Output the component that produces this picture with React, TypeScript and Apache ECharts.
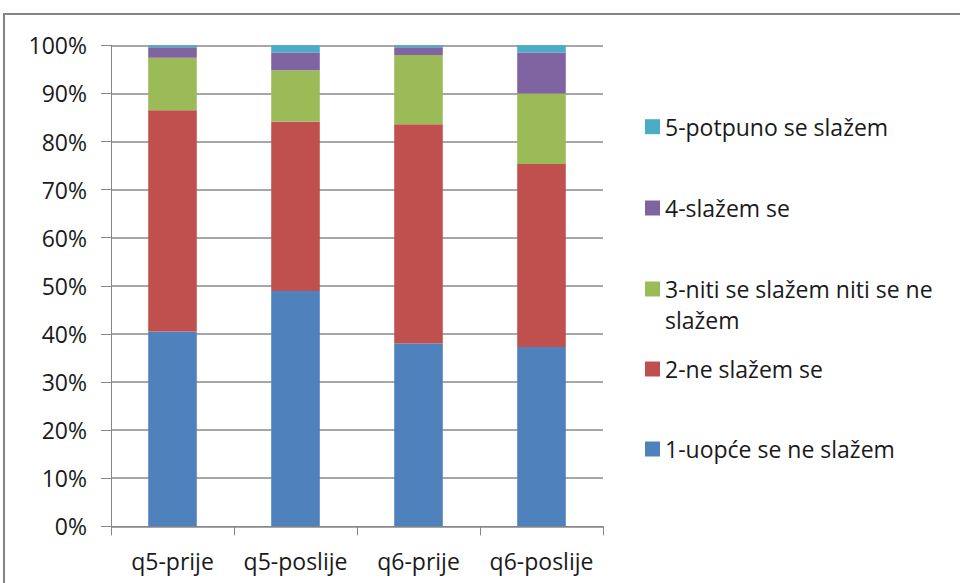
import React, { useEffect, useRef } from "react";
import * as echarts from "echarts";

const categories = ["q5-prije", "q5-poslije", "q6-prije", "q6-poslije"];
const seriesNames = [
  "1-uopće se ne slažem",
  "2-ne slažem se",
  "3-niti se slažem niti se ne slažem",
  "4-slažem se",
  "5-potpuno se slažem",
];
const s1 = [40.5, 48.9, 38.0, 37.3];
const s2 = [46.0, 35.2, 45.6, 38.0];
const s3 = [10.9, 10.7, 14.4, 14.7];
const s4 = [2.2, 3.7, 1.6, 8.5];
const s5 = [0.4, 1.5, 0.4, 1.5];
const colors = ["#4F81BD", "#C0504D", "#9BBB59", "#8064A2", "#4BACC6"];
const yTicks = [0, 10, 20, 30, 40, 50, 60, 70, 80, 90, 100];

const FONT = "Open Sans";
const FS = 23;

export default function App() {
  const ref = useRef<HTMLDivElement>(null);
  useEffect(() => {
    if (!ref.current) return;
    const chart = echarts.init(ref.current, null, { renderer: "svg" });
    const values = [s1, s2, s3, s4, s5];
    const legendTops = [433.5, 353.5, 273.5, 192.5, 111.2];
    const legends = seriesNames.map((name, i) => {
      const isMulti = i === 2;
      return {
        orient: "vertical",
        left: 645,
        top: legendTops[i],
        padding: 0,
        data: [name],
        selectedMode: false,
        icon: isMulti ? "path://M0,8H15V23H0Z M0,0h0.01v0.01h-0.01Z M0,62h0.01v0.01h-0.01Z" : "rect",
        itemWidth: 15,
        itemHeight: isMulti ? 62 : 15,
        formatter: isMulti ? () => "3-niti se slažem niti se ne\nslažem" : undefined,
        textStyle: {
          fontFamily: FONT,
          fontSize: FS,
          color: "#1a1a1a",
          lineHeight: 31,
        },
      };
    });
    chart.setOption({
      animation: false,
      backgroundColor: "#ffffff",
      color: colors,
      grid: { left: 111, right: 357, top: 45.3, bottom: 56.7, containLabel: false },
      legend: legends,
      graphic: [
        {
          type: "rect",
          shape: { x: 4, y: 14, width: 1200, height: 1200 },
          style: { fill: "none", stroke: "#858585", lineWidth: 2 },
          silent: true,
        },
      ],
      xAxis: {
        type: "category",
        data: categories,
        axisLine: { show: true, lineStyle: { color: "#868686", width: 1 } },
        axisTick: { show: true, alignWithLabel: false, length: 9, lineStyle: { color: "#868686" } },
        axisLabel: { interval: 0, fontFamily: FONT, fontSize: FS, color: "#1a1a1a", margin: 23 },
        splitLine: { show: false },
      },
      yAxis: {
        type: "value",
        min: 0,
        max: 100,
        interval: 10,
        axisLine: { show: true, lineStyle: { color: "#868686", width: 1 } },
        axisTick: { show: true, length: 10, lineStyle: { color: "#868686" } },
        axisLabel: {
          fontFamily: FONT,
          fontSize: FS,
          color: "#1a1a1a",
          margin: 24,
          formatter: (v: number) => (yTicks.includes(v) ? `${v}%` : ""),
        },
        splitLine: { show: true, lineStyle: { color: "#8a8a8a", width: 1.5 } },
      },
      series: seriesNames.map((name, i) => ({
        name,
        type: "bar",
        stack: "total",
        barWidth: "39.5%",
        data: values[i],
        itemStyle: { color: colors[i] },
      })),
    });
    return () => chart.dispose();
  }, []);
  return (
    <div
      ref={ref}
      style={{ position: "fixed", left: 0, top: 0, width: 960, height: 583, background: "#fff" }}
    />
  );
}
